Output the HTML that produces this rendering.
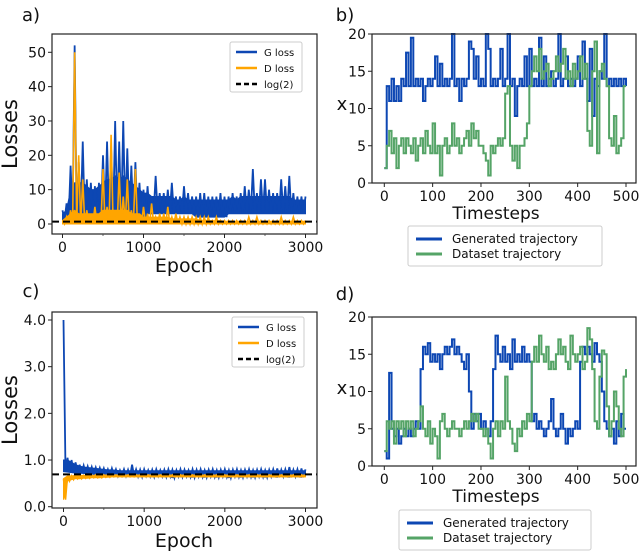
<!DOCTYPE html>
<html><head><meta charset="utf-8"><style>
html,body{margin:0;padding:0;background:#fff;width:640px;height:553px;overflow:hidden}
svg{display:block;font-family:"DejaVu Sans","Liberation Sans",sans-serif}
</style></head><body>
<svg id="fig" width="640" height="553" viewBox="0 0 640 553" xmlns="http://www.w3.org/2000/svg"></svg>
<script>
// ---------- data ----------
const lossStep = 50; // epochs between samples (0..3000)
const aGUpper = [4,6,17,52,18,24,13,12,11,12,20,24,22,30,24,30,22,17,18,12,10,11,8,14,9,9,10,12,8,8,11,9,8,8,9,9,8,8,8,9,8,8,9,8,9,11,10,16,9,13,13,10,9,9,13,11,14,9,8,8,8];
const aGBandTop = [3,4,10,12,12,12,11,10,10,11,12,13,13,14,13,14,13,12,11,10,9,9,8,8,8,8,8,8,7,7,8,7,7,7,7,7,7,7,7,7,7,7,8,7,8,8,8,8,8,8,8,8,8,8,8,8,8,7,7,7,7];
const aGLower = [1,1,2,1,2,1,2,2,1,2,2,2,1,2,2,2,2,2,2,2,2,3,3,3,3,3,3,3,3,3,3,3,3,2,2,2,2,2,2,2,2,3,3,3,3,3,3,3,3,3,3,3,3,3,3,3,3,3,3,3,3];
const aDUpper = [1,2,4,50,20,13,4,3,5,3,16,5,26,4,15,8,13,4,16,3,5,3,6,2,3,3,5,2,3,2,2,2,2,2,2,2,2,1,2,1,1,1,1,1,1,1,2,1,2,1,1,1,1,1,2,1,1,2,1,1,1];
const aDBandTop = [1,2,3,4,3,3,3,3,3,3,4,4,4,4,4,4,4,3,3,3,2,2,2,2,2,2,2,1.5,1.5,1.5,1.5,1.5,1.5,1.5,1,1,1,1,1,1,0.8,0.8,0.8,0.8,0.8,0.8,0.8,0.8,0.8,0.8,0.8,0.8,0.8,0.8,0.8,0.8,0.8,0.8,0.8,0.8,0.8];
const aDLower = [0,0,0,0,0,0,0,0,0,0,0,0,0,0,0,0,0,0,0,0,0,0,0,0,0,0,0,0,0,0,0,0,0,0,0,0,0,0,0,0,0,0,0,0,0,0,0,0,0,0,0,0,0,0,0,0,0,0,0,0,0];
const cGUpper = [4.0,1.05,1.0,0.95,0.9,0.88,0.86,0.85,0.84,0.83,0.82,0.8,0.82,0.8,0.78,0.8,0.79,0.9,0.8,0.79,0.8,0.78,0.79,0.8,0.78,0.79,0.8,0.79,0.78,0.8,0.79,0.78,0.8,0.79,0.8,0.78,0.79,0.8,0.78,0.79,0.8,0.78,0.79,0.8,0.78,0.79,0.8,0.78,0.79,0.8,0.78,0.79,0.8,0.82,0.79,0.8,0.85,0.79,0.8,0.82,0.8];
const cGBandTop = [1.0,1.0,0.95,0.9,0.87,0.85,0.84,0.83,0.82,0.81,0.8,0.79,0.79,0.78,0.77,0.77,0.77,0.77,0.77,0.77,0.77,0.77,0.77,0.77,0.77,0.77,0.77,0.77,0.77,0.77,0.77,0.77,0.77,0.77,0.77,0.77,0.77,0.77,0.77,0.77,0.77,0.77,0.77,0.77,0.77,0.77,0.77,0.77,0.77,0.77,0.77,0.77,0.77,0.77,0.77,0.77,0.77,0.77,0.77,0.77,0.77];
const cGLower = [0.75,0.74,0.73,0.72,0.72,0.71,0.71,0.7,0.7,0.69,0.68,0.67,0.68,0.66,0.67,0.66,0.65,0.66,0.65,0.64,0.66,0.65,0.64,0.66,0.65,0.64,0.65,0.62,0.65,0.64,0.65,0.64,0.63,0.65,0.64,0.63,0.65,0.64,0.63,0.65,0.64,0.62,0.65,0.64,0.63,0.65,0.64,0.63,0.65,0.64,0.63,0.65,0.64,0.63,0.65,0.64,0.63,0.65,0.64,0.63,0.65];
const cDUpper = [0.6,0.66,0.66,0.67,0.67,0.67,0.67,0.67,0.68,0.68,0.68,0.68,0.68,0.68,0.68,0.68,0.68,0.68,0.68,0.68,0.68,0.68,0.68,0.68,0.68,0.68,0.68,0.68,0.68,0.68,0.68,0.68,0.68,0.68,0.68,0.68,0.68,0.68,0.68,0.68,0.68,0.68,0.68,0.68,0.68,0.68,0.68,0.68,0.68,0.68,0.68,0.68,0.68,0.68,0.68,0.68,0.68,0.68,0.68,0.68,0.68];
const cDLower = [0.15,0.55,0.58,0.6,0.6,0.61,0.61,0.62,0.62,0.62,0.63,0.63,0.64,0.64,0.64,0.64,0.64,0.64,0.64,0.64,0.64,0.64,0.64,0.64,0.64,0.64,0.64,0.64,0.64,0.64,0.64,0.64,0.64,0.64,0.64,0.64,0.64,0.64,0.64,0.64,0.64,0.64,0.64,0.64,0.64,0.64,0.64,0.64,0.64,0.64,0.64,0.64,0.64,0.64,0.64,0.64,0.64,0.64,0.64,0.64,0.64];
const logTwo = 0.693;
const trajStep = 5; // timesteps between samples (0..500)
const bGen = [2,13,11,14,11,13,11,14,13,17.5,13,19.5,13,14,13,14,11,13,14,13,14,17,13,16,13,14,13,14,20,13,14,11,14,13,14,19,18,14,17,13,14,13,20,18,13,14,13,14,18,13,14,20,13,14,9,13,14,13,17,13,18,13,14,13,19.5,13,17,13,14,15,13,14,20,13,14,17,13,14,13,14,17,13,19,14,11,18,9,14,13,15,14,20,13,14,13,14,13,14,13,14,13];
const bData = [2,5,7,4,6,2,5,6,4,6,5,4,6,3,5,6,4,7,5,4,8,4,5,1,5,6,4,5,8,5,6,4,5,6,7,5,8,6,7,5,5,4,3,1,5,4,5,6,5,6,12,13,5,3,5,2,5,5,6,8,13,15,17,15,18,14,15,16,13,14,15,17,15,16,18,14,15,13,16,14,15,17,14,16,7,5,15,19,4,15,16,14,13,6,5,9,4,5,6,13,13];
const dGen = [2,1,12.5,5,4,5,3,4,5,4,5,4,5,6,5,13,16,15,16.5,14,15,14,15,13,15,16,15,16,17,15,16,15,14,13,15,10,5,7,6,7,5,6,5,4,6,13,17.5,15,14,16,14,15,13,17,14,15,14,16,14,15,14,6,7,5,6,5,4,5,6,9,5,4,5,7,5,3,5,4,5,6,5,14,16,15,16,15,14,16.5,15,14,10,6,5,4,5,3,6,4,7,5,5];
const dData = [2,6,5,6,3,6,5,6,4,6,5,6,4,5,6,8,5,4,6,3,5,4,1,6,7,5,4,5,6,5,5,4,5,6,5,6,7,6,7,5,5,4,5,3,1,5,6,4,6,5,12,6,5,3,2,5,4,6,5,7,6,14,16,14,17.5,15,14,16,13,14,13,15,17,15,16,14,13,17.5,15,14,15,16,13,14,18.5,17,13,6,5,12,15.5,15,8,4,6,10,8,5,4,12,13];
const lossXTicks = [0,1000,2000,3000];
const aYTicks = [0,10,20,30,40,50];
const cYTicks = [0,1,2,3,4];
const cYTickLabels = ["0.0","1.0","2.0","3.0","4.0"];
const trajXTicks = [0,100,200,300,400,500];
const trajYTicks = [0,5,10,15,20];

const BLUE="#0d47b3", ORANGE="#ffa500", GREEN="#55a467";
const svg=document.getElementById('fig');
const NS="http://www.w3.org/2000/svg";
function mk(tag,attrs,parent){const e=document.createElementNS(NS,tag);for(const k in attrs)e.setAttribute(k,attrs[k]);(parent||svg).appendChild(e);return e;}
function lin(d0,d1,r0,r1){return v=>r0+(v-d0)*(r1-r0)/(d1-d0);}

function axesBox(g,L,T,R,B,name){
  const r=mk('rect',{x:L,y:T,width:R-L,height:B-T,fill:'none',stroke:'#222','stroke-width':1.2},g);
  
  
}
function xTicks(g,ticks,labels,sx,B,fs,minor){
  ticks.forEach((t,i)=>{
    const x=sx(t);
    const tk=mk('line',{x1:x,x2:x,y1:B,y2:B+4,stroke:'#222','stroke-width':1},g);
    
    
    const tx=mk('text',{x:x,y:B+18,'font-size':fs,'text-anchor':'middle',fill:'#111'},g);
    tx.textContent=labels?labels[i]:String(t);
    
    
  });
  (minor||[]).forEach(t=>{const x=sx(t);
    const m=mk('line',{x1:x,x2:x,y1:B,y2:B+2,stroke:'#444','stroke-width':0.8},g);
    
    });
}
function yTicks(g,ticks,labels,sy,L,fs){
  ticks.forEach((t,i)=>{
    const y=sy(t);
    const tk=mk('line',{x1:L-4,x2:L,y1:y,y2:y,stroke:'#222','stroke-width':1},g);
    
    
    const tx=mk('text',{x:L-6,y:y+5,'font-size':fs,'text-anchor':'end',fill:'#111'},g);
    tx.textContent=labels?labels[i]:String(t);
    
    
  });
}
function bandFill(g,top,lo,step,sx,sy,color,name){
  const pts=[];
  top.forEach((v,i)=>pts.push(sx(i*step)+','+sy(v)));
  for(let i=lo.length-1;i>=0;i--)pts.push(sx(i*step)+','+sy(lo[i]));
  const p=mk('polygon',{points:pts.join(' '),fill:color,stroke:color,'stroke-width':1},g);
  
  
}
function bandLine(g,up,lo,step,sx,sy,color,name,w){
  const pts=[];
  up.forEach((v,i)=>{pts.push(sx(i*step)+','+sy(v));pts.push(sx(i*step+step/2)+','+sy(lo[i]));});
  pts.pop();
  const p=mk('polyline',{points:pts.join(' '),fill:'none',stroke:color,'stroke-width':w||1.6,'stroke-linejoin':'miter'},g);
  
  
}
function stepLine(g,vals,step,sx,sy,color,name){
  let d='';
  vals.forEach((v,i)=>{const x=sx(i*step),y=sy(v);
    if(i===0)d+='M'+x+' '+y;else d+=' H'+x+' V'+y;});
  const p=mk('path',{d:d,fill:'none',stroke:color,'stroke-width':2},g);
  
  
}
function hline(g,v,sy,L,R,name){
  const y=sy(v);
  const l=mk('line',{x1:L,x2:R,y1:y,y2:y,stroke:'#000','stroke-width':2,'stroke-dasharray':'7,4'},g);
  
  
}
function txt(g,x,y,s,fs,name,rot){
  const t=mk('text',{x:x,y:y,'font-size':fs,'text-anchor':'middle',fill:'#111'},g);
  if(rot)t.setAttribute('transform','rotate(-90 '+x+' '+y+')');
  t.textContent=s;
  
  
}
function lossLegend(g,x,y){
  const r=mk('rect',{x:x,y:y,width:72,height:50,fill:'#fff',stroke:'#ccc','stroke-width':1,rx:2},g);
  
  
  const items=[['G loss',BLUE,''],['D loss',ORANGE,''],['log(2)','#000','5,3']];
  items.forEach((it,i)=>{
    const yy=y+10+i*16;
    const l=mk('line',{x1:x+6,x2:x+27,y1:yy,y2:yy,stroke:it[1],'stroke-width':2.5,'stroke-dasharray':it[2]},g);
    
    
    const t=mk('text',{x:x+34,y:yy+4,'font-size':10,fill:'#111'},g);
    t.textContent=it[0];
    
    
  });
}
function trajLegend(g,x,y,w){
  const r=mk('rect',{x:x,y:y,width:w,height:40,fill:'#fff',stroke:'#ccc','stroke-width':1,rx:2},g);
  
  
  [['Generated trajectory',BLUE],['Dataset trajectory',GREEN]].forEach((it,i)=>{
    const yy=y+13+i*15;
    const l=mk('line',{x1:x+8,x2:x+34,y1:yy,y2:yy,stroke:it[1],'stroke-width':3},g);
    
    
    const t=mk('text',{x:x+44,y:yy+4,'font-size':12,fill:'#111'},g);
    t.textContent=it[0];
    
    
  });
}
function panel(name){const g=mk('g',{});return g;}

// ----- panel a -----
(function(){
  const g=panel('panel-a');
  const L=52,R=317,T=34,B=234;
  const sx=lin(0,3000,62.5,305.5), sy=lin(0,50,224,52.3);
  txt(g,31,21,'a)',18,'panel-label-a');
  bandFill(g,aGBandTop,aGLower,lossStep,sx,sy,BLUE,'band-g-loss');
  bandLine(g,aGUpper,aGLower,lossStep,sx,sy,BLUE,'series-g-loss',1.8);
  bandFill(g,aDBandTop,aDLower,lossStep,sx,sy,ORANGE,'band-d-loss');
  bandLine(g,aDUpper,aDLower,lossStep,sx,sy,ORANGE,'series-d-loss',1.6);
  hline(g,logTwo,sy,L,R,'log2-line');
  axesBox(g,L,T,R,B,'plot-area-a');
  xTicks(g,lossXTicks,null,sx,B,14,[500,1500,2500]);
  yTicks(g,aYTicks,null,sy,L,14);
  txt(g,184,272,'Epoch',19,'x-axis-title-a');
  txt(g,17,134,'Losses',21,'y-axis-title-a',true);
  lossLegend(g,230,42);
})();
// ----- panel b -----
(function(){
  const g=panel('panel-b');
  const L=372,R=636,T=34,B=183;
  const sx=lin(0,500,384.3,626), sy=lin(0,20,183,34);
  txt(g,345,21,'b)',18,'panel-label-b');
  stepLine(g,bGen,trajStep,sx,sy,BLUE,'series-generated-b');
  stepLine(g,bData,trajStep,sx,sy,GREEN,'series-dataset-b');
  axesBox(g,L,T,R,B,'plot-area-b');
  xTicks(g,trajXTicks,null,sx,B,14);
  yTicks(g,trajYTicks,null,sy,L,14);
  txt(g,496,219,'Timesteps',17,'x-axis-title-b');
  txt(g,342,110,'x',18,'y-axis-title-b');
  trajLegend(g,408,226,194);
})();
// ----- panel c -----
(function(){
  const g=panel('panel-c');
  const L=52,R=317,T=312,B=508;
  const sx=lin(0,3000,63.5,305.5), sy=lin(0,4,506.7,320);
  txt(g,31,297,'c)',18,'panel-label-c');
  bandFill(g,cGBandTop,cGLower,lossStep,sx,sy,BLUE,'band-g-loss');
  bandLine(g,cGUpper,cGLower,lossStep,sx,sy,BLUE,'series-g-loss',1.8);
  bandFill(g,cDUpper,cDLower,lossStep,sx,sy,ORANGE,'band-d-loss');
  bandLine(g,cDUpper,cDLower,lossStep,sx,sy,ORANGE,'series-d-loss',1.6);
  hline(g,logTwo,sy,L,R,'log2-line');
  axesBox(g,L,T,R,B,'plot-area-c');
  xTicks(g,lossXTicks,null,sx,B,14,[500,1500,2500]);
  yTicks(g,cYTicks,cYTickLabels,sy,L,14);
  txt(g,184,547,'Epoch',19,'x-axis-title-c');
  txt(g,17,410,'Losses',21,'y-axis-title-c',true);
  lossLegend(g,232,317);
})();
// ----- panel d -----
(function(){
  const g=panel('panel-d');
  const L=372,R=636,T=317,B=466;
  const sx=lin(0,500,384.3,626), sy=lin(0,20,466,317);
  txt(g,345,300,'d)',18,'panel-label-d');
  stepLine(g,dGen,trajStep,sx,sy,BLUE,'series-generated-d');
  stepLine(g,dData,trajStep,sx,sy,GREEN,'series-dataset-d');
  axesBox(g,L,T,R,B,'plot-area-d');
  xTicks(g,trajXTicks,null,sx,B,14);
  yTicks(g,trajYTicks,null,sy,L,14);
  txt(g,496,502,'Timesteps',17,'x-axis-title-d');
  txt(g,342,394,'x',18,'y-axis-title-d');
  trajLegend(g,399,510,192);
})();
</script>
</body></html>
